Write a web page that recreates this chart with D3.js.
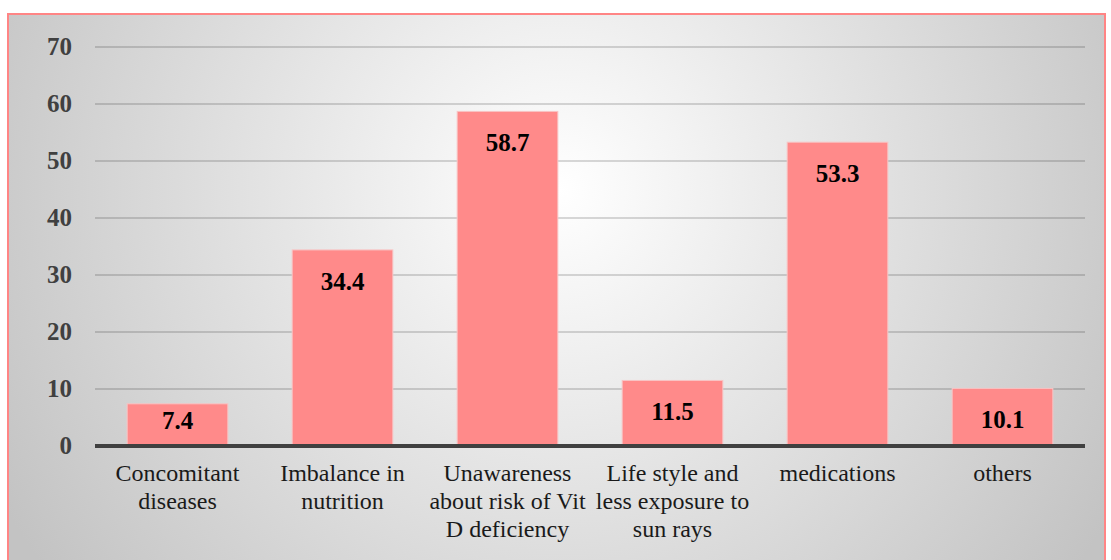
<!DOCTYPE html>
<html lang="en">
<head>
<meta charset="utf-8">
<title>Vit D deficiency reasons</title>
<script src="https://d3js.org/d3.v7.min.js"></script>
<style>
  body { margin: 0; background: #fff; }
</style>
</head>
<body>
<div id="chart"></div>
<script>
// data
var categories = [
  ["Concomitant", "diseases"],
  ["Imbalance in", "nutrition"],
  ["Unawareness", "about risk of Vit", "D deficiency"],
  ["Life style and", "less exposure to", "sun rays"],
  ["medications"],
  ["others"]
];
var values = [7.4, 34.4, 58.7, 11.5, 53.3, 10.1];
var yTicks = [0, 10, 20, 30, 40, 50, 60, 70];

var FONT = "'Liberation Serif', 'Times New Roman', serif";
var W = 1111, H = 560;
var plot = {left: 95, right: 1085, top: 47, bottom: 446};

var svg = d3.select("#chart").append("svg")
  .attr("width", W)
  .attr("height", H)
  .style("font-family", FONT);

// background gradient
var defs = svg.append("defs");
var grad = defs.append("radialGradient")
  .attr("id", "bg")
  .attr("gradientUnits", "userSpaceOnUse")
  .attr("cx", 560).attr("cy", 190).attr("r", 640);
grad.append("stop").attr("offset", "0%").attr("stop-color", "#ffffff");
grad.append("stop").attr("offset", "100%").attr("stop-color", "#c3c3c3");

svg.append("rect")
  .attr("x", 8).attr("y", 14)
  .attr("width", 1097).attr("height", 560)
  .attr("fill", "url(#bg)")
  .attr("stroke", "#ff8585")
  .attr("stroke-width", 2);

var idx = d3.range(values.length);
var x = d3.scaleBand()
  .domain(idx)
  .range([plot.left, plot.right])
  .paddingInner(0.39)
  .paddingOuter(0.195);

var y = d3.scaleLinear()
  .domain([0, 70])
  .range([plot.bottom, plot.top]);

// gridlines
svg.append("g")
  .selectAll("line")
  .data(yTicks.filter(function(d) { return d > 0; }))
  .enter()
  .append("line")
    .attr("x1", plot.left)
    .attr("x2", plot.right)
    .attr("y1", function(d) { return y(d); })
    .attr("y2", function(d) { return y(d); })
    .attr("stroke", "#000")
    .attr("stroke-opacity", 0.2)
    .attr("stroke-width", 1.5);

// y tick labels
svg.append("g")
  .selectAll("text")
  .data(yTicks)
  .enter()
  .append("text")
    .attr("x", 72)
    .attr("y", function(d) { return y(d) + 8; })
    .attr("text-anchor", "end")
    .attr("font-family", FONT)
    .attr("font-size", 25)
    .attr("font-weight", "bold")
    .attr("fill", "#404040")
    .text(function(d) { return d; });

// bars
svg.append("g")
  .selectAll("rect")
  .data(idx)
  .enter()
  .append("rect")
    .attr("x", function(i) { return x(i); })
    .attr("y", function(i) { return y(values[i]); })
    .attr("width", x.bandwidth())
    .attr("height", function(i) { return y(0) - y(values[i]); })
    .attr("fill", "#ff8a8a")
    .attr("stroke", "#f8c4c4")
    .attr("stroke-width", 1);

// value labels
svg.append("g")
  .selectAll("text")
  .data(idx)
  .enter()
  .append("text")
    .attr("x", function(i) { return x(i) + x.bandwidth() / 2; })
    .attr("y", function(i) { return Math.min(y(values[i]) + 40, y(0) - 17); })
    .attr("text-anchor", "middle")
    .attr("font-family", FONT)
    .attr("font-size", 25)
    .attr("font-weight", "bold")
    .attr("fill", "#000")
    .text(function(i) { return values[i]; });

// baseline
svg.append("line")
  .attr("x1", plot.left).attr("x2", plot.right)
  .attr("y1", y(0)).attr("y2", y(0))
  .attr("stroke", "#404040")
  .attr("stroke-width", 4);

// category labels
var cat = svg.append("g")
  .selectAll("text")
  .data(idx)
  .enter()
  .append("text")
    .attr("x", function(i) { return x(i) + x.bandwidth() / 2; })
    .attr("y", 481)
    .attr("text-anchor", "middle")
    .attr("font-family", FONT)
    .attr("font-size", 24)
    .attr("fill", "#1a1a1a");

cat.selectAll("tspan")
  .data(function(i) { return categories[i]; })
  .enter()
  .append("tspan")
    .attr("x", function() { return d3.select(this.parentNode).attr("x"); })
    .attr("dy", function(d, j) { return j === 0 ? 0 : 28; })
    .text(function(d) { return d; });
</script>
</body>
</html>
